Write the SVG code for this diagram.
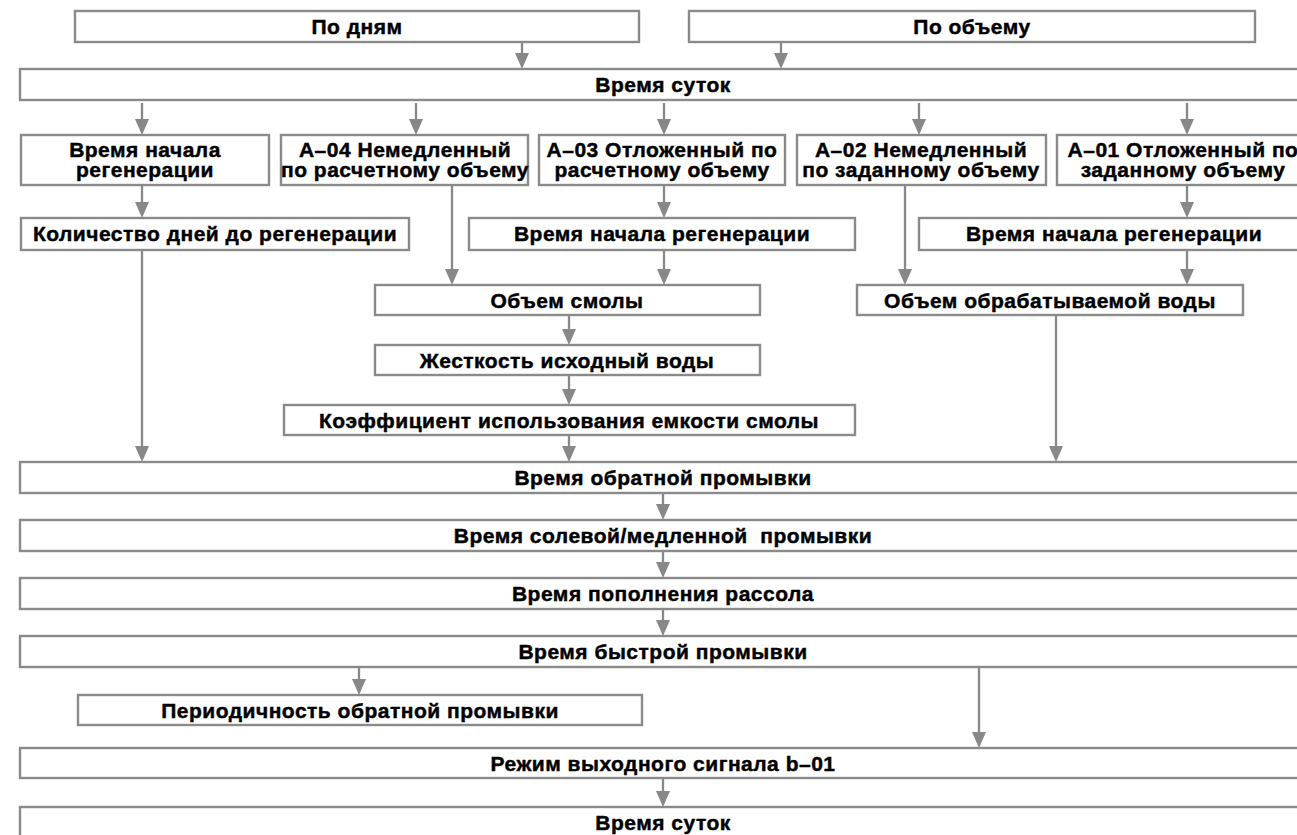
<svg xmlns="http://www.w3.org/2000/svg" width="1297" height="835" viewBox="0 0 1297 835">
<defs>
<style>
.b{fill:#fff;stroke:#8a8a8a;stroke-width:2.4}
.t{font-family:"Liberation Sans",Arial,sans-serif;font-weight:bold;font-size:21px;letter-spacing:0.5px;fill:#000;stroke:#000;stroke-width:0.45px;text-anchor:middle}
.c{stroke:#888;stroke-width:2.3;fill:none;marker-end:url(#ah)}
</style>
<marker id="ah" viewBox="0 0 16 14" refX="12" refY="7" markerWidth="16" markerHeight="14" markerUnits="userSpaceOnUse" orient="auto">
<path d="M0,0 L16,7 L0,14 z" fill="#888"/>
</marker>
</defs>
<rect width="1297" height="835" fill="#fff"/>
<g id="connectors">
<line class="c" x1="522" y1="43" x2="522" y2="65"/>
<line class="c" x1="781" y1="43" x2="781" y2="65"/>
<line class="c" x1="142" y1="103" x2="142" y2="131"/>
<line class="c" x1="416" y1="103" x2="416" y2="131"/>
<line class="c" x1="664" y1="103" x2="664" y2="131"/>
<line class="c" x1="919" y1="103" x2="919" y2="131"/>
<line class="c" x1="1187" y1="103" x2="1187" y2="131"/>
<line class="c" x1="142" y1="186" x2="142" y2="214"/>
<line class="c" x1="664" y1="186" x2="664" y2="214"/>
<line class="c" x1="1187" y1="186" x2="1187" y2="214"/>
<line class="c" x1="452" y1="186" x2="452" y2="281"/>
<line class="c" x1="664" y1="251" x2="664" y2="281"/>
<line class="c" x1="905" y1="186" x2="905" y2="281"/>
<line class="c" x1="1187" y1="251" x2="1187" y2="281"/>
<line class="c" x1="569" y1="316" x2="569" y2="341"/>
<line class="c" x1="569" y1="376" x2="569" y2="401"/>
<line class="c" x1="142" y1="251" x2="142" y2="458"/>
<line class="c" x1="569" y1="436" x2="569" y2="458"/>
<line class="c" x1="1056" y1="316" x2="1056" y2="458"/>
<line class="c" x1="663" y1="494" x2="663" y2="516"/>
<line class="c" x1="663" y1="552" x2="663" y2="574"/>
<line class="c" x1="663" y1="610" x2="663" y2="632"/>
<line class="c" x1="359" y1="668" x2="359" y2="691"/>
<line class="c" x1="979" y1="668" x2="979" y2="744"/>
<line class="c" x1="663" y1="779" x2="663" y2="803"/>
</g>
<g id="n1"><rect class="b" x="75" y="11" width="564" height="31"/><text class="t" x="357" y="33.5">По дням</text></g>
<g id="n2"><rect class="b" x="689" y="11" width="566" height="31"/><text class="t" x="972" y="33.5">По объему</text></g>
<g id="n3"><rect class="b" x="20" y="69" width="1290" height="31"/><text class="t" x="663" y="91.5">Время суток</text></g>
<g id="n4"><rect class="b" x="21" y="135" width="248" height="50"/><text class="t" x="145" y="157">Время начала</text><text class="t" x="145" y="177">регенерации</text></g>
<g id="n5"><rect class="b" x="281" y="135" width="247" height="50"/><text class="t" x="405" y="157">А–04 Немедленный</text><text class="t" x="405" y="177">по расчетному объему</text></g>
<g id="n6"><rect class="b" x="539" y="135" width="246" height="50"/><text class="t" x="662" y="157">А–03 Отложенный по</text><text class="t" x="662" y="177">расчетному объему</text></g>
<g id="n7"><rect class="b" x="797" y="135" width="249" height="50"/><text class="t" x="921" y="157">А–02 Немедленный</text><text class="t" x="921" y="177">по заданному объему</text></g>
<g id="n8"><rect class="b" x="1057" y="135" width="252" height="50"/><text class="t" x="1183" y="157">А–01 Отложенный по</text><text class="t" x="1183" y="177">заданному объему</text></g>
<g id="n9"><rect class="b" x="21" y="218" width="388" height="32"/><text class="t" x="215" y="240.5">Количество дней до регенерации</text></g>
<g id="n10"><rect class="b" x="469" y="218" width="386" height="32"/><text class="t" x="662" y="240.5">Время начала регенерации</text></g>
<g id="n11"><rect class="b" x="919" y="218" width="390" height="32"/><text class="t" x="1114" y="240.5">Время начала регенерации</text></g>
<g id="n12"><rect class="b" x="375" y="285" width="385" height="30"/><text class="t" x="567" y="307.5">Объем смолы</text></g>
<g id="n13"><rect class="b" x="857" y="285" width="386" height="30"/><text class="t" x="1050" y="307.5">Объем обрабатываемой воды</text></g>
<g id="n14"><rect class="b" x="375" y="345" width="385" height="30"/><text class="t" x="567" y="367.5">Жесткость исходный воды</text></g>
<g id="n15"><rect class="b" x="284" y="405" width="571" height="30"/><text class="t" x="569" y="427.5">Коэффициент использования емкости смолы</text></g>
<g id="n16"><rect class="b" x="20" y="462" width="1290" height="31"/><text class="t" x="663" y="484.5">Время обратной промывки</text></g>
<g id="n17"><rect class="b" x="20" y="520" width="1290" height="31"/><text class="t" x="663" y="542.5" style="white-space:pre">Время солевой/медленной  промывки</text></g>
<g id="n18"><rect class="b" x="20" y="578" width="1290" height="31"/><text class="t" x="663" y="600.5">Время пополнения рассола</text></g>
<g id="n19"><rect class="b" x="20" y="636" width="1290" height="31"/><text class="t" x="663" y="658.5">Время быстрой промывки</text></g>
<g id="n20"><rect class="b" x="78" y="695" width="564" height="30"/><text class="t" x="360" y="717.5">Периодичность обратной промывки</text></g>
<g id="n21"><rect class="b" x="20" y="748" width="1290" height="30"/><text class="t" x="663" y="770.5">Режим выходного сигнала b–01</text></g>
<g id="n22"><rect class="b" x="20" y="807" width="1290" height="32"/><text class="t" x="663" y="829.5">Время суток</text></g>
</svg>
